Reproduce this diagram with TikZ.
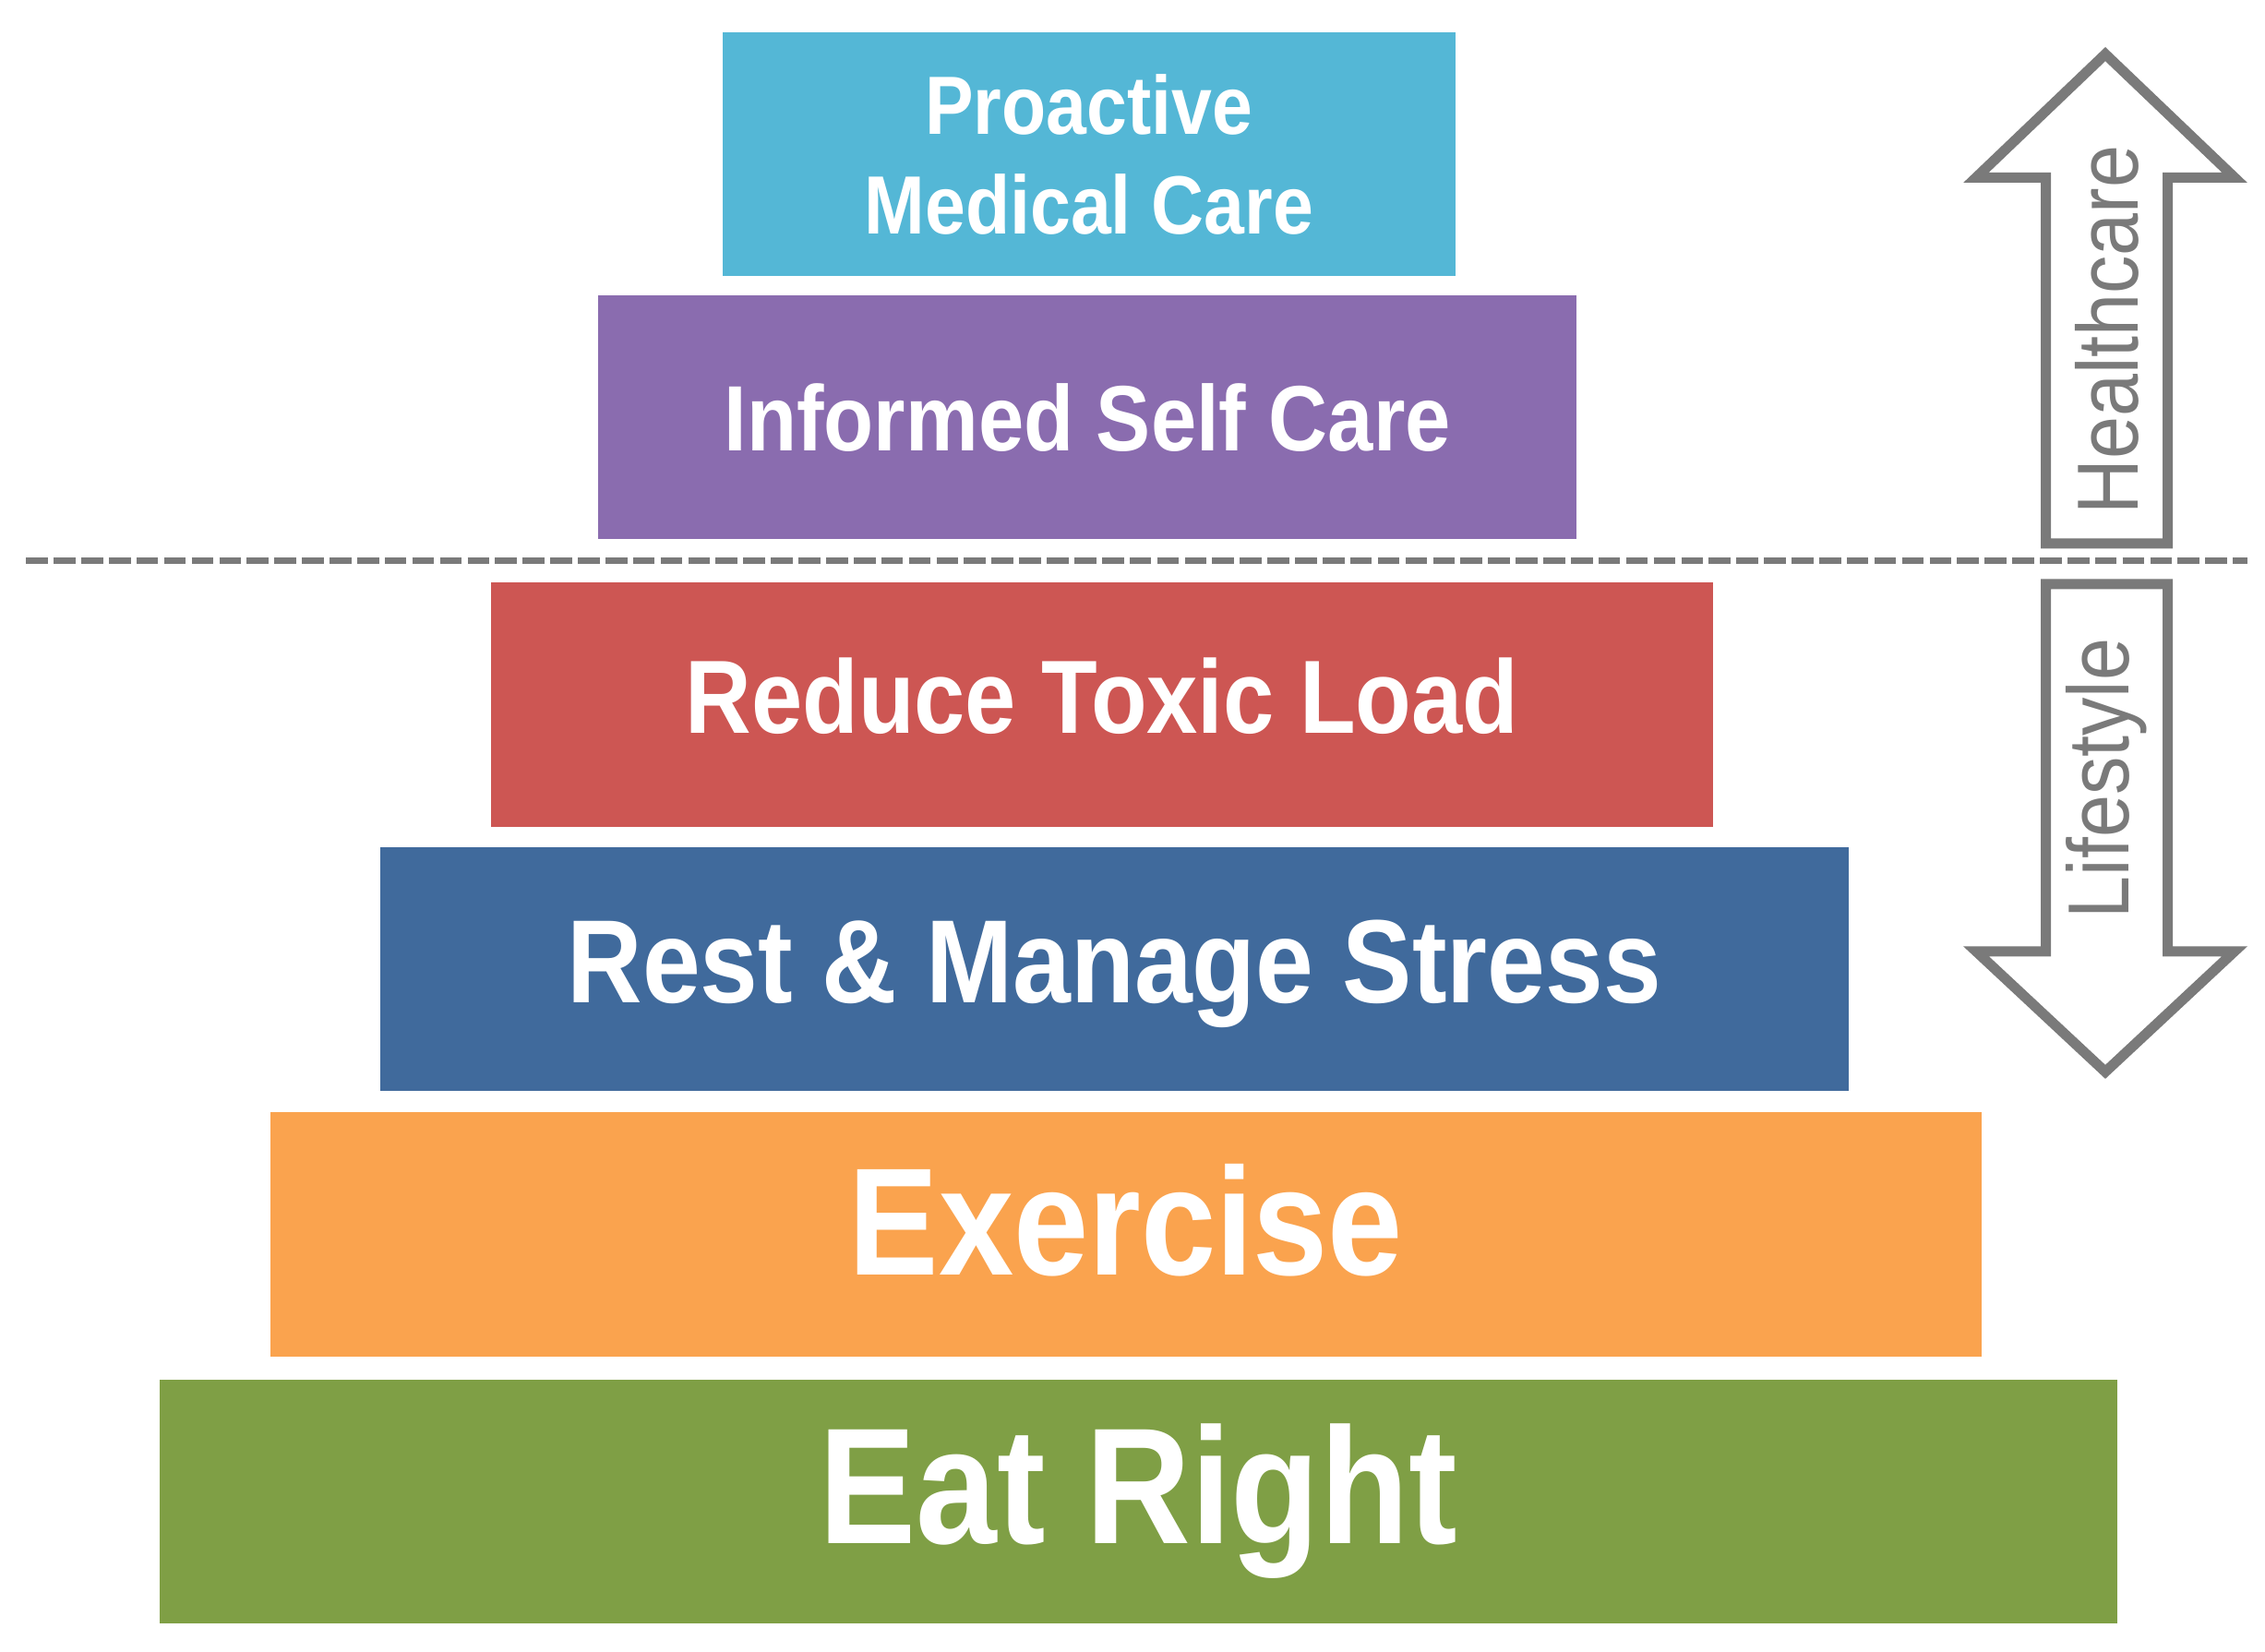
\documentclass[tikz,border=0pt]{standalone}
\usepackage{fontspec}
\setmainfont[FakeStretch=0.88]{Liberation Sans}
\definecolor{tiercyan}{HTML}{54B7D6}
\definecolor{tierpurple}{HTML}{8A6CAF}
\definecolor{tierred}{HTML}{CD5653}
\definecolor{tierblue}{HTML}{406A9C}
\definecolor{tierorange}{HTML}{FAA34E}
\definecolor{tiergreen}{HTML}{7F9F45}
\definecolor{arrowgray}{HTML}{7A7A7A}
\newcommand{\fsz}[1]{\fontsize{#1}{1.2\dimexpr#1\relax}\selectfont}

\begin{document}
\begin{tikzpicture}[tier/.style={minimum width=#1, minimum height=1.68cm, inner sep=0pt, text=white, text depth=0pt},
	sidelabel/.style={rotate=90, text=arrowgray, font=\fsz{17pt}},
	blockarrow/.style={draw=arrowgray, line width=0.07cm, line join=miter, fill=white}]
	\useasboundingbox (0,0) rectangle (15.6,11.373);
	% pyramid, top to bottom
	\node[tier=5.05cm, fill=tiercyan, align=center, font=\bfseries\fsz{16.2pt}] (proactive) at (7.50,10.31) {Proactive\\Medical Care};
	\node[tier=6.74cm, fill=tierpurple, font=\bfseries\fsz{18.2pt}] (selfcare) at (7.49,8.50) {Informed Self Care};
	\node[tier=8.42cm, fill=tierred, text depth=0.12cm, font=\bfseries\fsz{20.4pt}] (toxic) at (7.59,6.52) {Reduce Toxic Load};
	\node[tier=10.11cm, fill=tierblue, text depth=0.1cm, font=\bfseries\fsz{23.2pt}] (stress) at (7.675,4.70) {Rest \& Manage Stress};
	\node[tier=11.79cm, fill=tierorange, text depth=0.2cm, font=\bfseries\fsz{30pt}] (exercise) at (7.755,2.87) {Exercise};
	\node[tier=13.48cm, fill=tiergreen, text depth=0.25cm, font=\bfseries\fsz{32.4pt}] (eat) at (7.84,1.03) {Eat Right};
	% divider
	\draw[arrowgray, line width=1.2pt, dash pattern=on 0.15cm off 0.04cm] (0.18,7.51) -- (15.48,7.51);
	% up and down arrows
	\draw[blockarrow] (14.50,11.00) -- (15.39,10.15) -- (14.93,10.15) -- (14.93,7.63) -- (14.09,7.63) -- (14.09,10.15) -- (13.61,10.15) -- cycle;
	\draw[blockarrow] (14.50,3.99) -- (15.39,4.82) -- (14.93,4.82) -- (14.93,7.35) -- (14.09,7.35) -- (14.09,4.82) -- (13.61,4.82) -- cycle;
	\node[sidelabel] (health) at (14.51,9.10) {Healthcare};
	\node[sidelabel] (life) at (14.51,6.01) {Lifestyle};
\end{tikzpicture}
\end{document}
